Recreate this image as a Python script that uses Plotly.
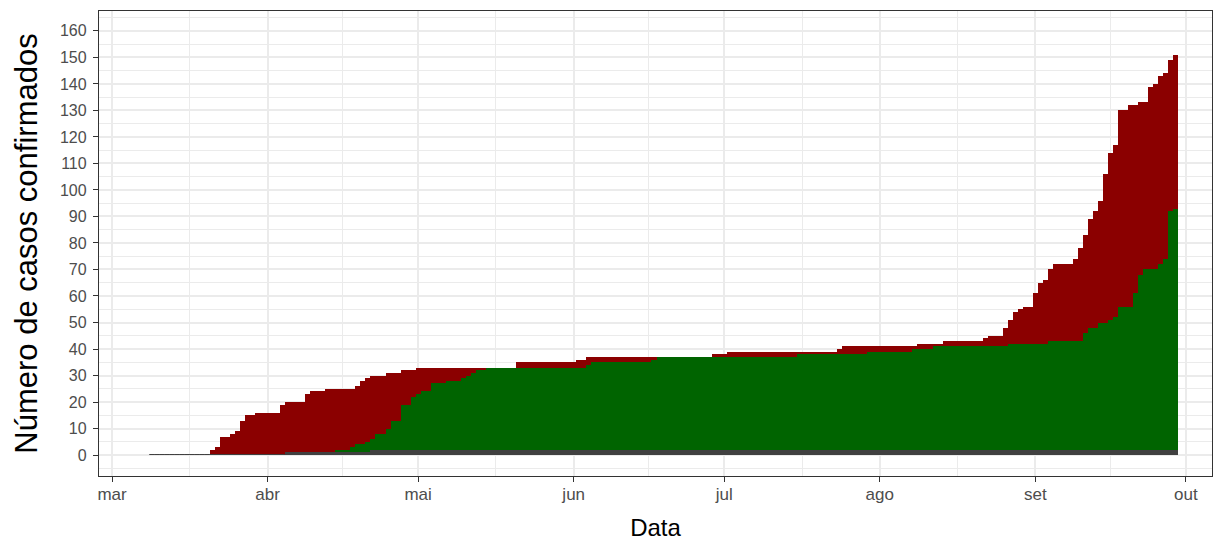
import pandas as pd
import plotly.graph_objects as go

# Daily series starting 2020-03-09 (one value per day)
inicio = "2020-03-09"

confirmados = [
    0, 0, 0, 0, 0, 0, 0, 0, 0, 0,                 # 09/03 - 18/03
    0, 0, 2, 3, 7, 7, 8, 9, 13, 15,               # 19/03 - 28/03
    15, 16, 16, 16, 16, 16, 19, 20, 20, 20,       # 29/03 - 07/04
    20, 23, 24, 24, 24, 25, 25, 25, 25, 25,       # 08/04 - 17/04
    25, 26, 28, 29, 30, 30, 30, 31, 31, 31,       # 18/04 - 27/04
    32, 32, 32, 33, 33, 33, 33, 33, 33, 33,       # 28/04 - 07/05
    33, 33, 33, 33, 33, 33, 33, 33, 33, 33,       # 08/05 - 17/05
    33, 33, 33, 35, 35, 35, 35, 35, 35, 35,       # 18/05 - 27/05
    35, 35, 35, 35, 35, 36, 36, 37, 37, 37,       # 28/05 - 06/06
    37, 37, 37, 37, 37, 37, 37, 37, 37, 37,       # 07/06 - 16/06
    37, 37, 37, 37, 37, 37, 37, 37, 37, 37,       # 17/06 - 26/06
    37, 37, 38, 38, 38, 39, 39, 39, 39, 39,       # 27/06 - 06/07
    39, 39, 39, 39, 39, 39, 39, 39, 39, 39,       # 07/07 - 16/07
    39, 39, 39, 39, 39, 39, 39, 40, 41, 41,       # 17/07 - 26/07
    41, 41, 41, 41, 41, 41, 41, 41, 41, 41,       # 27/07 - 05/08
    41, 41, 41, 42, 42, 42, 42, 42, 43, 43,       # 06/08 - 15/08
    43, 43, 43, 43, 43, 43, 44, 45, 45, 45,       # 16/08 - 25/08
    48, 51, 54, 55, 56, 56, 61, 65, 66, 70,       # 26/08 - 04/09
    72, 72, 72, 72, 74, 78, 83, 89, 92, 96,       # 05/09 - 14/09
    106, 114, 117, 130, 130, 132, 132, 133, 133, 139,  # 15/09 - 24/09
    140, 143, 144, 149, 151,                      # 25/09 - 29/09
]

recuperados = [
    0, 0, 0, 0, 0, 0, 0, 0, 0, 0,
    0, 0, 0, 0, 0, 0, 0, 0, 0, 0,
    0, 0, 0, 0, 0, 0, 0, 0, 0, 0,
    0, 0, 0, 0, 0, 0, 0, 1, 1, 1,
    2, 3, 3, 4, 4, 6, 6, 8, 11, 11,
    17, 17, 20, 21, 22, 22, 25, 25, 25, 26,
    26, 26, 27, 28, 29, 30, 30, 31, 31, 31,
    31, 31, 31, 31, 31, 31, 31, 31, 31, 31,
    31, 31, 31, 31, 31, 31, 31, 32, 33, 33,
    33, 33, 33, 33, 33, 33, 33, 33, 33, 33,
    34, 35, 35, 35, 35, 35, 35, 35, 35, 35,
    35, 35, 35, 35, 35, 35, 35, 35, 35, 35,
    35, 35, 35, 35, 35, 35, 35, 35, 35, 36,
    36, 36, 36, 36, 36, 36, 36, 36, 36, 36,
    36, 36, 36, 37, 37, 37, 37, 37, 37, 37,
    37, 37, 38, 38, 38, 38, 39, 39, 39, 39,
    39, 39, 39, 39, 39, 39, 39, 39, 39, 39,
    39, 40, 40, 40, 40, 40, 40, 40, 40, 41,
    41, 41, 41, 41, 41, 41, 44, 46, 46, 48,
    48, 49, 50, 54, 54, 54, 59, 66, 68, 68,
    68, 70, 72, 90, 91,
]

obitos = [
    0, 0, 0, 0, 0, 0, 0, 0, 0, 0,
    0, 0, 0, 0, 0, 0, 0, 0, 0, 0,
    0, 0, 0, 0, 0, 0, 0, 1, 1, 1,
    1, 1, 1, 1, 1, 1, 1, 1, 1, 1,
    1, 1, 1, 1, 2, 2, 2, 2, 2, 2,
    2, 2, 2, 2, 2, 2, 2, 2, 2, 2,
    2, 2, 2, 2, 2, 2, 2, 2, 2, 2,
    2, 2, 2, 2, 2, 2, 2, 2, 2, 2,
    2, 2, 2, 2, 2, 2, 2, 2, 2, 2,
    2, 2, 2, 2, 2, 2, 2, 2, 2, 2,
    2, 2, 2, 2, 2, 2, 2, 2, 2, 2,
    2, 2, 2, 2, 2, 2, 2, 2, 2, 2,
    2, 2, 2, 2, 2, 2, 2, 2, 2, 2,
    2, 2, 2, 2, 2, 2, 2, 2, 2, 2,
    2, 2, 2, 2, 2, 2, 2, 2, 2, 2,
    2, 2, 2, 2, 2, 2, 2, 2, 2, 2,
    2, 2, 2, 2, 2, 2, 2, 2, 2, 2,
    2, 2, 2, 2, 2, 2, 2, 2, 2, 2,
    2, 2, 2, 2, 2, 2, 2, 2, 2, 2,
    2, 2, 2, 2, 2, 2, 2, 2, 2, 2,
    2, 2, 2, 2, 2,
]

meses = ["2020-03-01", "2020-04-01", "2020-05-01", "2020-06-01",
         "2020-07-01", "2020-08-01", "2020-09-01", "2020-10-01"]
rotulos_meses = ["mar", "abr", "mai", "jun", "jul", "ago", "set", "out"]
ticks_y = [0, 10, 20, 30, 40, 50, 60, 70, 80, 90, 100, 110, 120, 130, 140, 150, 160]

cor_ativos = "#8B0000"
cor_recuperados = "#006400"
cor_obitos = "#404040"

datas = pd.date_range(inicio, periods=len(confirmados), freq="D")
ativos = [c - r - o for c, r, o in zip(confirmados, recuperados, obitos)]
base_ativos = [o + r for o, r in zip(obitos, recuperados)]

meses_dt = pd.to_datetime(meses)
menores_x = [meses_dt[i] + (meses_dt[i + 1] - meses_dt[i]) / 2 for i in range(len(meses_dt) - 1)]
menores_y = [t + 5 for t in [-10] + ticks_y]

fig = go.Figure()
fig.add_trace(go.Bar(x=datas, y=recuperados, base=obitos, marker_color=cor_recuperados,
                     marker_line_width=0, name="Recuperados"))
fig.add_trace(go.Bar(x=datas, y=ativos, base=base_ativos, marker_color=cor_ativos,
                     marker_line_width=0, name="Ativos"))
fig.add_trace(go.Bar(x=datas, y=obitos, marker_color=cor_obitos,
                     marker_line_color=cor_obitos,
                     marker_line_width=[1 if o == 0 else 0 for o in obitos],
                     name="Óbitos"))

eixo = dict(
    showline=True, linecolor="#333333", linewidth=1.3, mirror=True,
    ticks="outside", ticklen=5, tickwidth=1.2, tickcolor="#333333",
    showgrid=True, gridcolor="#EBEBEB", gridwidth=1.6,
    zeroline=False,
)

fig.update_layout(
    width=1221, height=545,
    margin=dict(l=99, r=9, t=11, b=69),
    plot_bgcolor="white", paper_bgcolor="white",
    barmode="overlay", bargap=0,
    showlegend=False,
    font=dict(family="Liberation Sans, Arial, sans-serif", color="black"),
    xaxis=dict(
        **eixo, type="date",
        range=["2020-02-27 09:36", "2020-10-06 04:48"],
        tickmode="array", tickvals=meses_dt, ticktext=rotulos_meses,
        tickfont=dict(size=17, color="#4D4D4D"), ticklabelstandoff=-3,
        minor=dict(tickvals=menores_x, showgrid=True, gridcolor="#EBEBEB", gridwidth=0.8, ticks=""),
        title=dict(text="Data", font=dict(size=24, color="black"), standoff=16),
    ),
    yaxis=dict(
        **eixo,
        range=[-7.9, 167.5],
        tickmode="array", tickvals=ticks_y,
        tickfont=dict(size=16, color="#4D4D4D"), ticklabelstandoff=3,
        minor=dict(tickvals=menores_y, showgrid=True, gridcolor="#EBEBEB", gridwidth=0.8, ticks=""),
        title=dict(text="Número de casos confirmados", font=dict(size=31, color="black"), standoff=13),
    ),
)

fig.write_html("out.html", config={"displayModeBar": False},
               post_script="document.body.style.margin='0';document.body.style.overflow='hidden';")
